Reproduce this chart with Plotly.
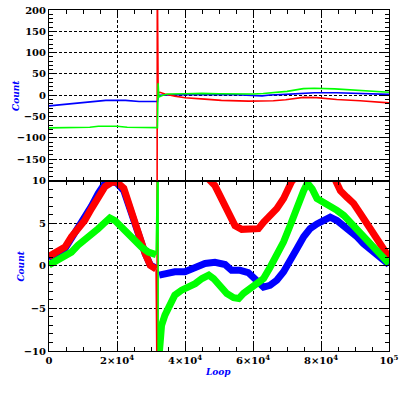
import plotly.graph_objects as go

# ---------------- data (x in units of 1e3 loops) ----------------
# Top panel (Count, range -200..200)
top_blue_x = [0, 4.7, 8, 12.8, 16.7, 22.5, 26.5, 30, 31.9, 32.2, 35, 40, 46, 49, 55, 62.7, 65, 69.6, 74.8, 78, 84.6, 90, 95, 99.5, 100]
top_blue_y = [-25, -21.3, -19, -15, -12, -12, -14.5, -14.5, -14.5, 0, 1, 1.5, 2, 2, 1, -1.5, 0.5, 2.1, 4.4, 6, 5.9, 5, 4, 2.1, 2]

top_green_x = [0, 4.5, 8, 12, 14.5, 20, 23, 30, 31.9, 32.1, 32.3, 33.5, 35, 40, 45, 50, 55, 60, 63, 66, 70, 74.8, 78, 84, 90.7, 95, 99.5, 100]
top_green_y = [-76.5, -76.5, -75, -75, -72.6, -72.6, -75, -75.5, -76, 28, -4, 0, 2.9, 3.5, 4.5, 3.5, 2.5, 3, 4, 6.5, 9, 15.5, 16.3, 15, 12, 10, 7, 7]

top_red_x = [0, 31.8, 31.85, 32.1, 32.6, 34.1, 37, 40, 45.8, 50.7, 58.6, 63.7, 66, 69.6, 74.8, 78.7, 84.6, 91.5, 99.5, 100]
top_red_y = [-300, -300, 300, 4.7, 6.8, 2.8, -2, -5.8, -9, -12, -13.7, -13.7, -13, -10.5, -5, -5.5, -9.8, -12.9, -17.7, -18]

# Bottom panel (Count, range -10..10)
bot_blue_x_pre = [0, 2, 4.7, 6.6, 8.5, 10.5, 12.5, 14.5, 16.5, 18.5, 20, 22, 23.5, 25, 26.4, 28.3, 29.8, 31.5]
bot_blue_y_pre = [0.8, 1.2, 2.0, 3.2, 4.4, 5.5, 7.0, 8.5, 9.7, 9.9, 9.7, 8.8, 7.0, 5.4, 3.7, 1.4, 0.1, -0.3]
bot_blue_x_post = [32.4, 35, 37, 40, 43, 45.9, 48.8, 51.8, 53.7, 56.2, 58.6, 60.6, 63.1, 65, 67, 69, 70.9, 72.9, 74.9,
                   76.8, 78.8, 80.8, 82.7, 84.7, 86.7, 88.6, 90.6, 92.5, 94.5, 96.5, 98.4, 100]
bot_blue_y_post = [-1.1, -0.9, -0.7, -0.7, -0.3, 0.26, 0.4, 0.14, -0.53, -0.53, -0.8, -1.6, -2.5, -2.3, -1.7, -0.7, 0.45, 2.0, 3.4,
                   4.35, 4.9, 5.2, 5.7, 5.3, 4.7, 4.15, 3.4, 2.6, 2.0, 1.43, 0.64, 0.14]

bot_red_x_pre = [0, 2, 4.7, 6.6, 8.5, 10.5, 12.5, 14.5, 16.5, 18.5, 20, 22, 23.5, 25, 26.4, 28.3, 29.8, 31.5]
bot_red_y_pre = [1.1, 1.5, 2.2, 3.4, 4.35, 5.3, 6.7, 8.05, 9.3, 9.8, 9.8, 9.1, 7.1, 5.5, 3.8, 1.4, 0.05, -0.4]
bot_red_x_post = [32.4, 40, 45, 46.9, 48.8, 50.3, 51.8, 53.2, 54.7, 56.7, 59.6, 61.6, 63.1, 65.1, 67, 69, 70.4, 71.4, 72.5,
                  84, 84.4, 85.7, 87.6, 89.6, 91.6, 93.5, 95.5, 97.5, 99.4, 100]
bot_red_y_post = [13, 13, 11.5, 10.2, 9.4, 8.25, 6.7, 5.7, 4.7, 4.27, 4.27, 4.35, 5.1, 5.9, 6.7, 7.9, 9.2, 9.9, 10.4,
                  10.4, 9.9, 8.8, 8.05, 7.3, 6.1, 4.9, 3.6, 2.2, 1.3, 1.0]

bot_green_x_pre = [0, 2.7, 4.7, 6.6, 8.5, 10.5, 12.5, 14.5, 16.5, 17.9, 19.4, 21.3, 23.3, 25.3, 27.2, 29.2, 31.5]
bot_green_y_pre = [0.1, 0.64, 1.03, 1.6, 2.4, 3.0, 3.6, 4.35, 5.1, 5.6, 5.3, 4.5, 3.8, 3.0, 2.2, 1.6, 1.3]
bot_green_x_post = [32.3, 33.1, 34.1, 35.6, 37, 39, 41, 43, 45, 47, 48.4, 50.4, 52.3, 54.3, 55.8, 57.2, 59.2, 61.2, 63.1,
                    65, 67, 69, 70.9, 72.9, 74.9, 76, 77.4, 78.8, 80.8, 82.7, 84.7, 86.7, 88.6, 90.6, 92.5, 94.5, 96.5, 98.4, 100]
bot_green_y_post = [-11, -7.0, -5.8, -4.4, -3.45, -2.87, -2.5, -2.1, -1.5, -1.1, -1.5, -2.5, -3.25, -3.75, -3.85, -3.25, -2.6, -2.1, -1.5,
                    -0.2, 1.2, 2.8, 4.7, 6.9, 8.8, 9.7, 9.0, 7.9, 7.5, 7.1, 6.5, 5.9, 5.1, 4.15, 3.2, 2.4, 1.6, 0.9, 0.26]

# single-sample spikes at the restart point
spike_red_x = [31.5, 31.8, 31.8, 32.4]
spike_red_y = [-0.4, -15, 15, 13]
spike_green_x = [31.5, 32.1, 32.1, 32.3]
spike_green_y = [1.3, 15, -15, -11]

x_tick_vals = [0, 20, 40, 60, 80, 100]
x_tick_text = ["0", "2×10<sup>4</sup>", "4×10<sup>4</sup>", "6×10<sup>4</sup>", "8×10<sup>4</sup>", "10<sup>5</sup>"]
top_y_ticks = [-150, -100, -50, 0, 50, 100, 150, 200]
bot_y_ticks = [-10, -5, 0, 5, 10]

BLUE, RED, GREEN = "#0000ff", "#ff0000", "#00ff00"
SCALE = 1000.0

def xs(v):
    return [a * SCALE for a in v]

fig = go.Figure()

# top panel
for x, y, c in [(top_blue_x, top_blue_y, BLUE), (top_red_x, top_red_y, RED), (top_green_x, top_green_y, GREEN)]:
    fig.add_trace(go.Scatter(x=xs(x), y=y, mode="lines", line=dict(color=c, width=1.6),
                             xaxis="x2", yaxis="y2", showlegend=False, hoverinfo="skip"))

# bottom panel thick noisy bands
BW = 7
for x, y, c in [(bot_blue_x_pre, bot_blue_y_pre, BLUE), (bot_blue_x_post, bot_blue_y_post, BLUE),
                (bot_red_x_pre, bot_red_y_pre, RED), (bot_red_x_post, bot_red_y_post, RED),
                (bot_green_x_pre, bot_green_y_pre, GREEN), (bot_green_x_post, bot_green_y_post, GREEN)]:
    fig.add_trace(go.Scatter(x=xs(x), y=y, mode="lines", line=dict(color=c, width=BW),
                             xaxis="x", yaxis="y", showlegend=False, hoverinfo="skip"))
for x, y, c in [(spike_red_x, spike_red_y, RED), (spike_green_x, spike_green_y, GREEN)]:
    fig.add_trace(go.Scatter(x=xs(x), y=y, mode="lines", line=dict(color=c, width=1.6),
                             xaxis="x", yaxis="y", showlegend=False, hoverinfo="skip"))

tick_font = dict(family="DejaVu Serif", size=10, color="black", weight="bold")
title_font = dict(family="DejaVu Serif", size=9, color=BLUE, style="italic", weight="bold")

common = dict(showline=True, linecolor="black", linewidth=1, mirror="ticks",
              ticks="inside", ticklen=8, tickcolor="black", tickwidth=1,
              showgrid=True, gridcolor="black", gridwidth=1, griddash="3px,2px",
              zeroline=False, tickfont=tick_font, automargin=False)

fig.update_layout(
    width=399, height=399,
    margin=dict(l=49, r=10, t=10, b=48),
    paper_bgcolor="white", plot_bgcolor="white",
    xaxis=dict(domain=[0, 1], anchor="y", range=[0, 100000],
               tickmode="array", tickvals=xs(x_tick_vals), ticktext=x_tick_text,
               minor=dict(ticks="inside", ticklen=4, dtick=5000, tickcolor="black", showgrid=False),
               **common),
    xaxis2=dict(domain=[0, 1], anchor="y2", range=[0, 100000], matches="x",
                tickmode="array", tickvals=xs(x_tick_vals), showticklabels=False,
                minor=dict(ticks="inside", ticklen=4, dtick=5000, tickcolor="black", showgrid=False),
                **common),
    yaxis=dict(domain=[0, 0.5], anchor="x", range=[-10, 10],
               tickmode="array", tickvals=bot_y_ticks,
               minor=dict(ticks="inside", ticklen=4, dtick=1, tickcolor="black", showgrid=False),
               **common),
    yaxis2=dict(domain=[0.5, 1], anchor="x2", range=[-200, 200],
                tickmode="array", tickvals=top_y_ticks,
                minor=dict(ticks="inside", ticklen=4, dtick=10, tickcolor="black", showgrid=False),
                **common),
    annotations=[
        dict(text="Count", xref="paper", yref="paper", x=-0.097, y=0.748, textangle=-90,
             showarrow=False, font=title_font, xanchor="center", yanchor="middle"),
        dict(text="Count", xref="paper", yref="paper", x=-0.081, y=0.249, textangle=-90,
             showarrow=False, font=title_font, xanchor="center", yanchor="middle"),
        dict(text="Loop", xref="paper", yref="paper", x=0.497, y=-0.0616,
             showarrow=False, font=title_font, xanchor="center", yanchor="middle"),
    ],
)

# remove the default 8px page margin so the figure sits at the window's top-left corner
fig.write_html("out.html", config={"displayModeBar": False},
               post_script="document.body.style.margin='0px';")
